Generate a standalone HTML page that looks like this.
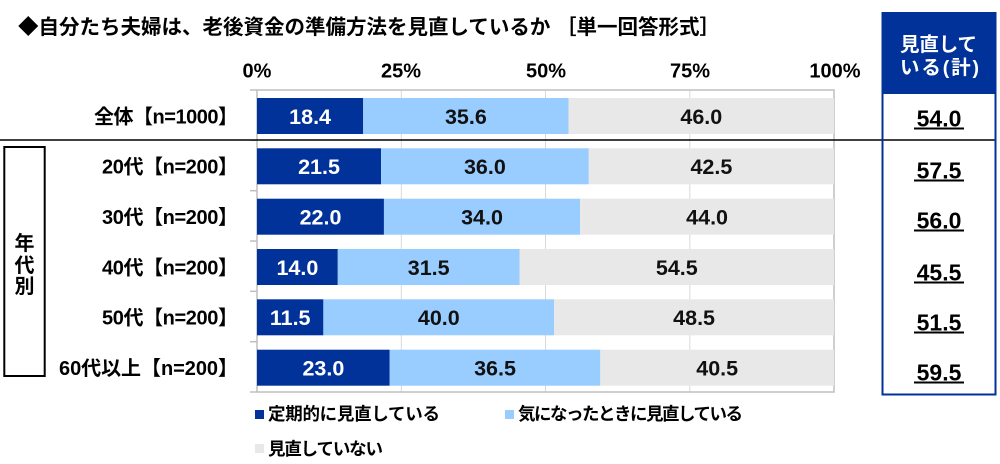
<!DOCTYPE html>
<html><head><meta charset="utf-8">
<style>
html,body{margin:0;padding:0;background:#fff;}
svg{display:block;}
text{font-family:"Liberation Sans","Noto Sans CJK JP",sans-serif;font-weight:bold;}
</style></head>
<body>
<svg width="1000" height="464" viewBox="0 0 1000 464" xmlns="http://www.w3.org/2000/svg">
<rect width="1000" height="464" fill="#fff"/>
<!-- title -->
<text x="18" y="34" font-size="20.5" fill="#000" textLength="702">◆自分たち夫婦は、老後資金の準備方法を見直しているか ［単一回答形式］</text>

<!-- axis tick labels -->
<g font-size="20" fill="#000" text-anchor="middle">
<text x="257" y="77.5">0%</text>
<text x="401" y="77.5">25%</text>
<text x="546" y="77.5">50%</text>
<text x="690" y="77.5">75%</text>
<text x="835" y="77.5">100%</text>
</g>

<!-- gridlines -->
<g stroke="#d9d9d9" stroke-width="1">
<line x1="401.3" y1="90" x2="401.3" y2="392"/>
<line x1="545.5" y1="90" x2="545.5" y2="392"/>
<line x1="689.8" y1="90" x2="689.8" y2="392"/>
</g>
<!-- plot border -->
<rect x="257" y="90" width="577" height="302" fill="none" stroke="#bfbfbf" stroke-width="1.5"/>
<g stroke="#bfbfbf" stroke-width="1.5">
<line x1="250" y1="90" x2="257" y2="90"/>
<line x1="250" y1="140.3" x2="257" y2="140.3"/>
<line x1="250" y1="190.7" x2="257" y2="190.7"/>
<line x1="250" y1="241" x2="257" y2="241"/>
<line x1="250" y1="291.3" x2="257" y2="291.3"/>
<line x1="250" y1="341.7" x2="257" y2="341.7"/>
<line x1="250" y1="392" x2="257" y2="392"/>
</g>

<!-- bars -->
<g>
<rect x="257" y="98" width="106.17" height="36" fill="#00329a"/>
<rect x="363.17" y="98" width="205.41" height="36" fill="#99ccff"/>
<rect x="568.58" y="98" width="265.42" height="36" fill="#e8e8e8"/>
<rect x="257" y="148.3" width="124.06" height="36" fill="#00329a"/>
<rect x="381.06" y="148.3" width="207.72" height="36" fill="#99ccff"/>
<rect x="588.78" y="148.3" width="245.22" height="36" fill="#e8e8e8"/>
<rect x="257" y="198.7" width="126.94" height="36" fill="#00329a"/>
<rect x="383.94" y="198.7" width="196.18" height="36" fill="#99ccff"/>
<rect x="580.12" y="198.7" width="253.88" height="36" fill="#e8e8e8"/>
<rect x="257" y="249" width="80.78" height="36" fill="#00329a"/>
<rect x="337.78" y="249" width="181.75" height="36" fill="#99ccff"/>
<rect x="519.53" y="249" width="314.47" height="36" fill="#e8e8e8"/>
<rect x="257" y="299.3" width="66.36" height="36" fill="#00329a"/>
<rect x="323.36" y="299.3" width="230.8" height="36" fill="#99ccff"/>
<rect x="554.16" y="299.3" width="279.84" height="36" fill="#e8e8e8"/>
<rect x="257" y="349.7" width="132.71" height="36" fill="#00329a"/>
<rect x="389.71" y="349.7" width="210.6" height="36" fill="#99ccff"/>
<rect x="600.31" y="349.7" width="233.69" height="36" fill="#e8e8e8"/>
</g>

<!-- data labels -->
<g font-size="21.5" text-anchor="middle">
<g fill="#fff">
<text x="310.1" y="123.8">18.4</text>
<text x="319" y="174.1">21.5</text>
<text x="320.5" y="224.5">22.0</text>
<text x="297.4" y="274.8">14.0</text>
<text x="290.2" y="325.1">11.5</text>
<text x="323.4" y="375.5">23.0</text>
</g>
<g fill="#111">
<text x="465.9" y="123.8">35.6</text>
<text x="484.9" y="174.1">36.0</text>
<text x="482" y="224.5">34.0</text>
<text x="428.7" y="274.8">31.5</text>
<text x="438.8" y="325.1">40.0</text>
<text x="495" y="375.5">36.5</text>
<text x="701.3" y="123.8">46.0</text>
<text x="711.4" y="174.1">42.5</text>
<text x="707.1" y="224.5">44.0</text>
<text x="676.8" y="274.8">54.5</text>
<text x="694.1" y="325.1">48.5</text>
<text x="717.2" y="375.5">40.5</text>
</g>
</g>

<!-- category labels -->
<g font-size="20" fill="#000">
<text x="94" y="123.3" textLength="144">全体【n=1000】</text>
<text x="102" y="173.6" textLength="136">20代【n=200】</text>
<text x="102" y="224" textLength="136">30代【n=200】</text>
<text x="102" y="274.3" textLength="136">40代【n=200】</text>
<text x="102" y="324.6" textLength="136">50代【n=200】</text>
<text x="59" y="375" textLength="179">60代以上【n=200】</text>
</g>

<!-- separator line -->
<line x1="0" y1="140" x2="995" y2="140" stroke="#000" stroke-width="1.5"/>

<!-- left group box -->
<rect x="4.3" y="147" width="40.4" height="229" fill="none" stroke="#000" stroke-width="2"/>
<g font-size="20" fill="#000" text-anchor="middle">
<text x="24.5" y="250">年</text>
<text x="24.5" y="272">代</text>
<text x="24.5" y="293">別</text>
</g>

<!-- right box -->
<rect x="882.5" y="13" width="113" height="81" fill="#00329a"/>
<rect x="882.5" y="13" width="113" height="381.5" fill="none" stroke="#00329a" stroke-width="2"/>
<g font-size="19.5" fill="#fff">
<text x="900" y="51" textLength="77">見直して</text>
<text x="900" y="74" textLength="79">いる(計)</text>
</g>
<g font-size="23" fill="#000" text-anchor="middle">
<text x="939" y="126.3">54.0</text>
<text x="939" y="178.3">57.5</text>
<text x="939" y="228.3">56.0</text>
<text x="939" y="280.3">45.5</text>
<text x="939" y="330.3">51.5</text>
<text x="939" y="380.3">59.5</text>
</g>
<g stroke="#000" stroke-width="2">
<line x1="914" y1="128.5" x2="964" y2="128.5"/>
<line x1="914" y1="180.5" x2="964" y2="180.5"/>
<line x1="914" y1="230.5" x2="964" y2="230.5"/>
<line x1="914" y1="282.5" x2="964" y2="282.5"/>
<line x1="914" y1="332.5" x2="964" y2="332.5"/>
<line x1="914" y1="382.5" x2="964" y2="382.5"/>
</g>

<!-- legend -->
<rect x="255" y="410" width="9" height="9" fill="#00329a"/>
<text x="268" y="420" font-size="17.5" fill="#000" textLength="172">定期的に見直している</text>
<rect x="505" y="410" width="9" height="9" fill="#99ccff"/>
<text x="518" y="420" font-size="17.5" fill="#000" textLength="225">気になったときに見直している</text>
<rect x="255" y="444" width="9" height="9" fill="#e8e8e8"/>
<text x="268" y="455" font-size="17.5" fill="#000" textLength="115">見直していない</text>
</svg>
</body></html>
